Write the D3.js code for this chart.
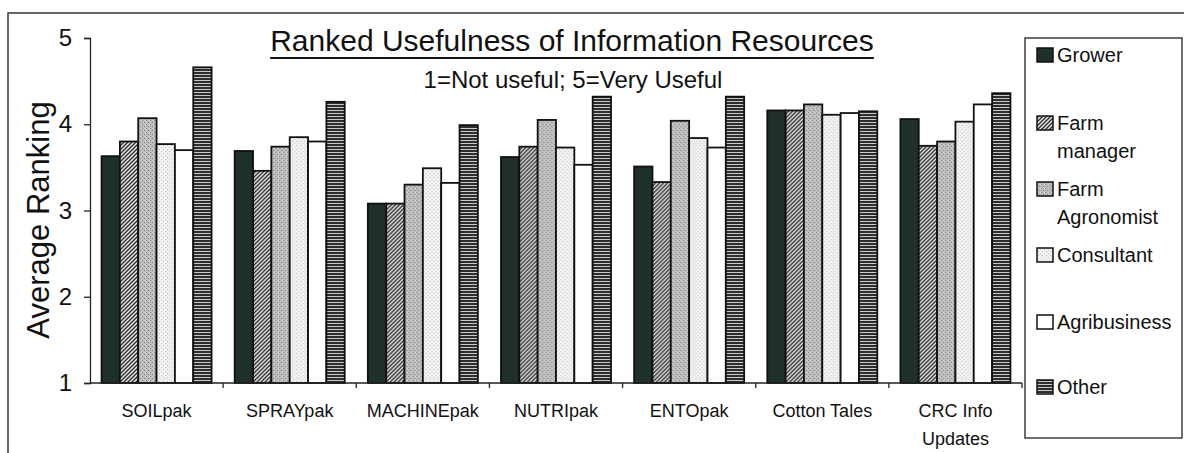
<!DOCTYPE html>
<html>
<head>
<meta charset="utf-8">
<script src="https://cdn.jsdelivr.net/npm/d3@7"></script>
<style>
  body { margin: 0; background: #fff; }
  text { font-family: "Liberation Sans", Arial, sans-serif; fill: #111; }
</style>
</head>
<body>
<div id="chart"></div>
<script>
// Resources along the x axis
var categories = ["SOILpak", "SPRAYpak", "MACHINEpak", "NUTRIpak", "ENTOpak", "Cotton Tales", "CRC Info|Updates"];
var seriesNames = ["Grower", "Farm|manager", "Farm|Agronomist", "Consultant", "Agribusiness", "Other"];

// Average ranking per respondent group
var grower       = [3.63, 3.69, 3.08, 3.62, 3.51, 4.16, 4.06];
var farmManager  = [3.80, 3.46, 3.08, 3.74, 3.33, 4.16, 3.75];
var agronomist   = [4.07, 3.74, 3.30, 4.05, 4.04, 4.23, 3.80];
var consultant   = [3.77, 3.85, 3.49, 3.73, 3.84, 4.11, 4.03];
var agribusiness = [3.70, 3.80, 3.32, 3.53, 3.73, 4.13, 4.23];
var other        = [4.66, 4.26, 3.99, 4.32, 4.32, 4.15, 4.36];

var yTicks = [1, 2, 3, 4, 5];

var allSeries = [grower, farmManager, agronomist, consultant, agribusiness, other];
var fills = ["url(#pGrower)", "url(#pHatch)", "url(#pDots)", "url(#pLight)", "#fff", "url(#pLines)"];

var W = 1184, H = 453;
var plot = { left: 90, right: 1022, top: 38, bottom: 383 };

var svg = d3.select("#chart").append("svg")
    .attr("width", W)
    .attr("height", H);

// patterns for the bar fills
var defs = svg.append("defs");

var pg = defs.append("pattern").attr("id", "pGrower")
    .attr("patternUnits", "userSpaceOnUse").attr("width", 4).attr("height", 4);
pg.append("rect").attr("width", 4).attr("height", 4).attr("fill", "#1f2f2a");

var ph = defs.append("pattern").attr("id", "pHatch")
    .attr("patternUnits", "userSpaceOnUse").attr("width", 4).attr("height", 4);
ph.append("rect").attr("width", 4).attr("height", 4).attr("fill", "#e4e4e4");
ph.append("path").attr("d", "M-1,1 l2,-2 M0,4 l4,-4 M3,5 l2,-2")
    .attr("stroke", "#2a2a2a").attr("stroke-width", 1.3);

var pd = defs.append("pattern").attr("id", "pDots")
    .attr("patternUnits", "userSpaceOnUse").attr("width", 4).attr("height", 4);
pd.append("rect").attr("width", 4).attr("height", 4).attr("fill", "#bdbdbd");
pd.append("rect").attr("x", 0).attr("y", 0).attr("width", 1).attr("height", 1).attr("fill", "#7a7a7a");
pd.append("rect").attr("x", 2).attr("y", 2).attr("width", 1).attr("height", 1).attr("fill", "#888");
pd.append("rect").attr("x", 3).attr("y", 0).attr("width", 1).attr("height", 1).attr("fill", "#e6e6e6");

var pl = defs.append("pattern").attr("id", "pLight")
    .attr("patternUnits", "userSpaceOnUse").attr("width", 4).attr("height", 4);
pl.append("rect").attr("width", 4).attr("height", 4).attr("fill", "#f0f0f0");
pl.append("rect").attr("x", 1).attr("y", 1).attr("width", 1).attr("height", 1).attr("fill", "#c4c4c4");
pl.append("rect").attr("x", 3).attr("y", 3).attr("width", 1).attr("height", 1).attr("fill", "#d0d0d0");

var pn = defs.append("pattern").attr("id", "pLines")
    .attr("patternUnits", "userSpaceOnUse").attr("width", 4).attr("height", 3);
pn.append("rect").attr("width", 4).attr("height", 3).attr("fill", "#2e2e2e");
pn.append("rect").attr("y", 2).attr("width", 4).attr("height", 1).attr("fill", "#c8c8c8");

// outer frame of the figure
svg.append("rect")
    .attr("x", 8).attr("y", 13)
    .attr("width", W).attr("height", H)
    .attr("fill", "none").attr("stroke", "#333").attr("stroke-width", 1.5);

var x0 = d3.scaleBand().domain(categories).range([plot.left, plot.right]);
var x1 = d3.scaleBand().domain(d3.range(allSeries.length))
    .range([0, x0.bandwidth()]).paddingOuter(0.63);
var y = d3.scaleLinear().domain([1, 5]).range([plot.bottom, plot.top]);

// bars
var groups = svg.selectAll(".grp")
    .data(categories)
    .enter().append("g")
      .attr("class", "grp")
      .attr("transform", function(d) { return "translate(" + x0(d) + ",0)"; });

groups.selectAll("rect")
    .data(function(d, i) {
        return allSeries.map(function(s, j) { return { s: j, v: s[i] }; });
    })
    .enter().append("rect")
      .attr("x", function(d) { return x1(d.s); })
      .attr("y", function(d) { return y(d.v); })
      .attr("width", x1.bandwidth())
      .attr("height", function(d) { return y(1) - y(d.v); })
      .attr("fill", function(d) { return fills[d.s]; })
      .attr("stroke", "#111")
      .attr("stroke-width", 1.8);

// y axis
var yAxis = svg.append("g")
    .attr("transform", "translate(" + plot.left + ",0)")
    .call(d3.axisLeft(y).tickValues(yTicks).tickFormat(d3.format("d")).tickSize(6).tickPadding(12));
yAxis.select(".domain").attr("stroke", "#222").attr("stroke-width", 1.3);
yAxis.selectAll(".tick line").attr("stroke", "#222").attr("stroke-width", 1.3);
yAxis.selectAll(".tick text")
    .style("font-family", '"Liberation Sans", Arial, sans-serif')
    .style("font-size", "24px").attr("fill", "#111");

// x axis: ticks on category boundaries
svg.append("line")
    .attr("x1", plot.left).attr("x2", plot.right)
    .attr("y1", plot.bottom).attr("y2", plot.bottom)
    .attr("stroke", "#222").attr("stroke-width", 1.5);
svg.selectAll(".xtick")
    .data(categories)
    .enter().append("line")
      .attr("class", "xtick")
      .attr("x1", function(d) { return x0(d) + x0.bandwidth(); })
      .attr("x2", function(d) { return x0(d) + x0.bandwidth(); })
      .attr("y1", plot.bottom).attr("y2", plot.bottom + 5)
      .attr("stroke", "#222").attr("stroke-width", 1.3);

svg.selectAll(".xlab")
    .data(categories)
    .enter().append("text")
      .attr("class", "xlab")
      .attr("text-anchor", "middle")
      .attr("x", function(d) { return x0(d) + x0.bandwidth() / 2; })
      .attr("y", 417)
      .style("font-size", "18px")
      .each(function(d) {
          var parts = d.split("|");
          var t = d3.select(this);
          parts.forEach(function(p, k) {
              t.append("tspan")
                .attr("x", x0(d) + x0.bandwidth() / 2)
                .attr("dy", k === 0 ? 0 : 28)
                .text(p);
          });
      });

// y axis title
svg.append("text")
    .attr("transform", "translate(49,220) rotate(-90)")
    .attr("text-anchor", "middle")
    .style("font-size", "31px")
    .text("Average Ranking");

// title and subtitle
var title = svg.append("text")
    .attr("x", 572).attr("y", 51)
    .attr("text-anchor", "middle")
    .style("font-size", "30px")
    .text("Ranked Usefulness of Information Resources");
var tw = title.node().getComputedTextLength();
svg.append("line")
    .attr("x1", 572 - tw / 2).attr("x2", 572 + tw / 2)
    .attr("y1", 58).attr("y2", 58)
    .attr("stroke", "#111").attr("stroke-width", 2);

svg.append("text")
    .attr("x", 573).attr("y", 88)
    .attr("text-anchor", "middle")
    .style("font-size", "24px")
    .text("1=Not useful; 5=Very Useful");

// legend
var legend = svg.append("g");
legend.append("rect")
    .attr("x", 1025).attr("y", 38)
    .attr("width", 157).attr("height", 400)
    .attr("fill", "#fff").attr("stroke", "#222").attr("stroke-width", 1.3);

var legendY = [62, 130, 196, 262, 329, 394];
var items = legend.selectAll(".item")
    .data(seriesNames)
    .enter().append("g")
      .attr("class", "item")
      .attr("transform", function(d, i) { return "translate(1037," + legendY[i] + ")"; });

items.append("rect")
    .attr("x", 0).attr("y", -14)
    .attr("width", 16).attr("height", 14)
    .attr("fill", function(d, i) { return fills[i]; })
    .attr("stroke", "#111").attr("stroke-width", 1.5);

items.append("text")
    .attr("x", 20).attr("y", 0)
    .style("font-size", "20px")
    .each(function(d) {
        var t = d3.select(this);
        d.split("|").forEach(function(p, k) {
            t.append("tspan")
              .attr("x", 20)
              .attr("dy", k === 0 ? 0 : 28)
              .text(p);
        });
    });
</script>
</body>
</html>
